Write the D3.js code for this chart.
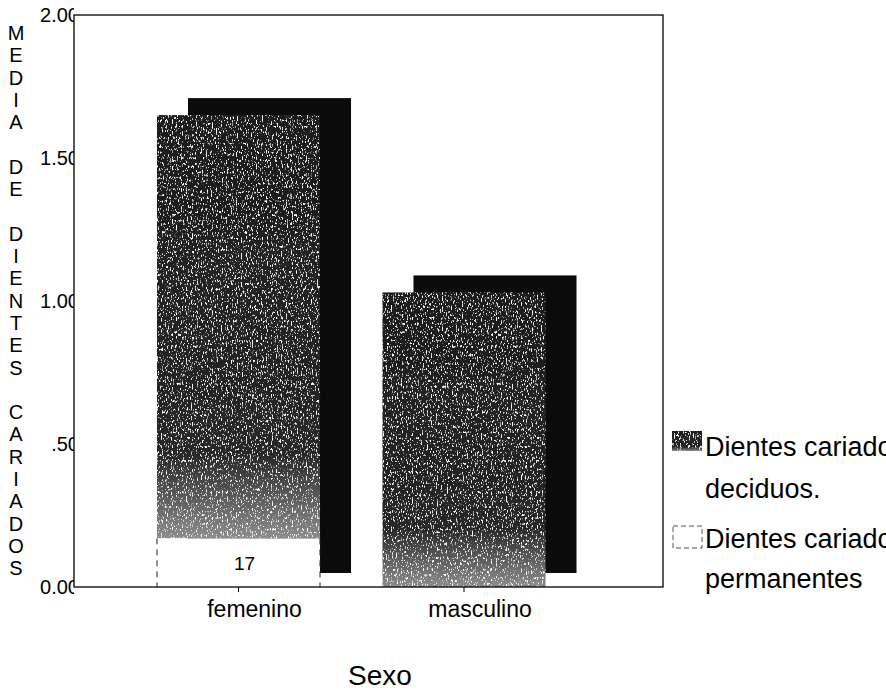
<!DOCTYPE html>
<html>
<head>
<meta charset="utf-8">
<script src="https://cdn.jsdelivr.net/npm/d3@7"></script>
<style>
  body { margin: 0; background: #fff; }
  text { font-family: "Liberation Sans", Arial, sans-serif; fill: #000; }
</style>
</head>
<body>
<div id="chart"></div>
<script>
let categories = ["femenino", "masculino"];
let deciduos = [1.48, 1.03];
let permanentes = [0.17, 0.00];
let valueLabels = ["17", ""];
let yTicks = [0, 0.5, 1, 1.5, 2];
let yTickLabels = ["0.00", ".50", "1.00", "1.50", "2.00"];
let yTitle = "MEDIA DE DIENTES CARIADOS";
let xTitle = "Sexo";
let legendLabels = [["Dientes cariados", "deciduos."], ["Dientes cariados", "permanentes"]];

let width = 886, height = 691;
let plot = {left: 74, right: 663, top: 15, bottom: 587};
// 3d depth of the bars
let depth = {dx: 31, dy: -17, bottom: -14};

let svg = d3.select("#chart").append("svg")
  .attr("width", width)
  .attr("height", height);

let defs = svg.append("defs");

// dark fill that fades out near the bottom of each bar
let grad = defs.append("linearGradient")
  .attr("id", "fade")
  .attr("x1", 0).attr("y1", 0).attr("x2", 0).attr("y2", 1);
grad.append("stop").attr("offset", "0").attr("stop-color", "#1c1c1c");
grad.append("stop").attr("offset", "0.8").attr("stop-color", "#262626");
grad.append("stop").attr("offset", "1").attr("stop-color", "#8c8c8c");

// scanned-print grain: white speckles clipped to the shape
let grain = defs.append("filter")
  .attr("id", "grain")
  .attr("x", 0).attr("y", 0).attr("width", 1).attr("height", 1);
grain.append("feTurbulence")
  .attr("type", "fractalNoise")
  .attr("baseFrequency", "0.8 0.35")
  .attr("numOctaves", 2)
  .attr("seed", 4)
  .attr("result", "noise");
grain.append("feColorMatrix")
  .attr("in", "noise")
  .attr("type", "matrix")
  .attr("values", "0 0 0 0 1  0 0 0 0 1  0 0 0 0 1  7 0 0 0 -4.1")
  .attr("result", "specks");
grain.append("feComposite")
  .attr("in", "specks").attr("in2", "SourceGraphic")
  .attr("operator", "in")
  .attr("result", "clipped");
let merge = grain.append("feMerge");
merge.append("feMergeNode").attr("in", "SourceGraphic");
merge.append("feMergeNode").attr("in", "clipped");

// tick labels are cut by the axis line, as in the print
defs.append("clipPath").attr("id", "tickClip")
  .append("rect")
  .attr("x", -plot.left).attr("y", 0)
  .attr("width", plot.left).attr("height", height);

let x = d3.scaleBand()
  .domain(categories)
  .range([157, 545.5])
  .paddingInner(0.277);

let y = d3.scaleLinear()
  .domain([0, 2])
  .range([plot.bottom, plot.top]);

let rows = categories.map((c, i) => ({
  cat: c,
  perm: permanentes[i],
  dec: deciduos[i],
  total: permanentes[i] + deciduos[i],
  label: valueLabels[i]
}));

svg.append("rect")
  .attr("width", width).attr("height", height)
  .attr("fill", "#fff");

//////////
// bars //
//////////

// back face (depth)
svg.selectAll(".back")
  .data(rows)
  .enter().append("rect")
  .attr("class", "back")
  .attr("x", (d) => x(d.cat) + depth.dx)
  .attr("y", (d) => y(d.total) + depth.dy)
  .attr("width", x.bandwidth())
  .attr("height", (d) => (y(0) + depth.bottom) - (y(d.total) + depth.dy))
  .attr("fill", "#0b0b0b");

// deciduos segment
svg.selectAll(".dec")
  .data(rows)
  .enter().append("rect")
  .attr("class", "dec")
  .attr("x", (d) => x(d.cat))
  .attr("y", (d) => y(d.total))
  .attr("width", x.bandwidth())
  .attr("height", (d) => y(d.perm) - y(d.total))
  .attr("fill", "url(#fade)")
  .attr("filter", "url(#grain)");

// permanentes segment
let perm = svg.selectAll(".perm")
  .data(rows.filter((d) => d.perm > 0))
  .enter().append("g")
  .attr("class", "perm");
perm.append("rect")
  .attr("x", (d) => x(d.cat))
  .attr("y", (d) => y(d.perm))
  .attr("width", x.bandwidth())
  .attr("height", (d) => y(0) - y(d.perm))
  .attr("fill", "#fff");
perm.append("path")
  .attr("d", (d) => "M" + x(d.cat) + "," + y(d.perm) + "V" + y(0)
    + "M" + (x(d.cat) + x.bandwidth()) + "," + y(d.perm) + "V" + y(0))
  .attr("stroke", "#222")
  .attr("stroke-dasharray", "6,5")
  .attr("fill", "none");
perm.append("text")
  .attr("x", (d) => x(d.cat) + x.bandwidth() / 2 + 6)
  .attr("y", (d) => (y(0) + y(d.perm)) / 2 + 7)
  .attr("text-anchor", "middle")
  .style("font-size", "19px")
  .text((d) => d.label);

//////////
// axes //
//////////

svg.append("rect")
  .attr("x", plot.left).attr("y", plot.top)
  .attr("width", plot.right - plot.left)
  .attr("height", plot.bottom - plot.top)
  .attr("fill", "none")
  .attr("stroke", "#000")
  .attr("stroke-width", 1.3);

let yAxis = svg.append("g")
  .attr("transform", "translate(" + plot.left + ",0)")
  .call(d3.axisLeft(y)
    .tickValues(yTicks)
    .tickFormat((d, i) => yTickLabels[i])
    .tickSize(0)
    .tickPadding(-5));
yAxis.select(".domain").remove();
yAxis.selectAll("text")
  .style("font-size", "20px")
  .attr("fill", "#000");
yAxis.attr("clip-path", "url(#tickClip)");

let xAxis = svg.append("g")
  .attr("transform", "translate(0," + plot.bottom + ")")
  .call(d3.axisBottom(x).tickSize(5).tickPadding(9));
xAxis.select(".domain").remove();
xAxis.selectAll("line").attr("stroke", "#000");
xAxis.selectAll("text")
  .attr("x", 16)
  .attr("fill", "#000")
  .style("font-size", "23px");

// axis titles
svg.append("g")
  .selectAll("text")
  .data(yTitle.split(""))
  .enter().append("text")
  .attr("x", 16)
  .attr("y", (d, i) => 40 + i * 22.3)
  .attr("text-anchor", "middle")
  .style("font-size", "20px")
  .text((d) => d);

svg.append("text")
  .attr("x", 380)
  .attr("y", 685)
  .attr("text-anchor", "middle")
  .style("font-size", "28px")
  .text(xTitle);

////////////
// legend //
////////////

let legend = svg.append("g").attr("transform", "translate(672,0)");
legend.append("rect")
  .attr("x", 0).attr("y", 431)
  .attr("width", 30).attr("height", 20)
  .attr("fill", "url(#fade)")
  .attr("filter", "url(#grain)");
legend.append("rect")
  .attr("x", 1).attr("y", 526)
  .attr("width", 29).attr("height", 22)
  .attr("fill", "#fff")
  .attr("stroke", "#555")
  .attr("stroke-dasharray", "5,3");
let baselines = [[456, 498], [548, 588]];
legendLabels.forEach((lines, i) => {
  lines.forEach((t, j) => {
    legend.append("text")
      .attr("x", 33)
      .attr("y", baselines[i][j])
      .style("font-size", "27px")
      .text(t);
  });
});
</script>
</body>
</html>
